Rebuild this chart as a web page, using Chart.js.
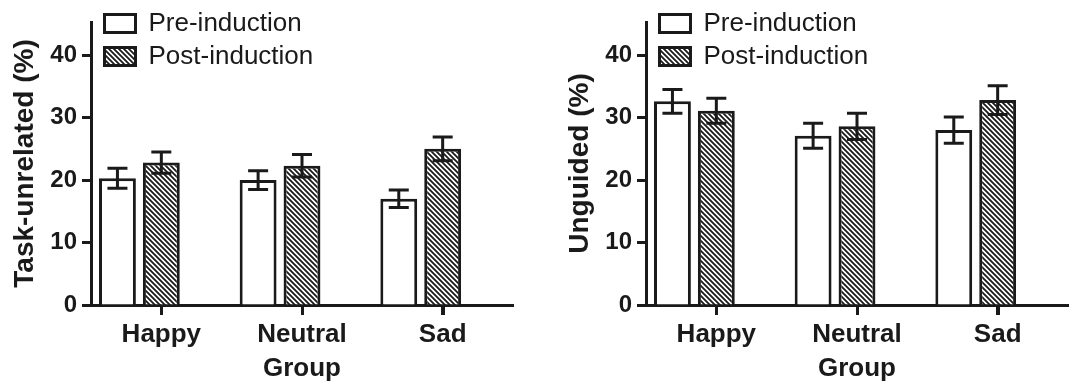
<!DOCTYPE html>
<html>
<head>
<meta charset="utf-8">
<script src="https://cdn.jsdelivr.net/npm/chart.js@4.4.1/dist/chart.umd.min.js"></script>
<style>
  html, body { margin: 0; padding: 0; background: #fff; }
  #wrap { display: flex; width: 1073px; height: 384px; }
  canvas { display: block; }
</style>
</head>
<body>
<div id="wrap">
  <canvas id="left" width="555" height="384"></canvas>
  <canvas id="right" width="518" height="384"></canvas>
</div>
<script>
const groups = ["Happy", "Neutral", "Sad"];
const seriesNames = ["Pre-induction", "Post-induction"];
const yTicks = [0, 10, 20, 30, 40];

// task-unrelated (%), mean and error
const taskPre = [20.3, 20.0, 17.0];
const taskPreErr = [1.6, 1.5, 1.4];
const taskPost = [22.8, 22.3, 25.0];
const taskPostErr = [1.7, 1.8, 1.9];

// unguided (%), mean and error
const ungPre = [32.6, 27.1, 28.0];
const ungPreErr = [1.9, 2.0, 2.1];
const ungPost = [31.1, 28.6, 32.8];
const ungPostErr = [2.0, 2.1, 2.3];

const INK = "#1a1a1a";
Chart.defaults.font.family = "'Liberation Sans', Arial, sans-serif";
Chart.defaults.color = INK;

// diagonal hatch for the post-induction bars
function hatch(ctx) {
  const s = 5;
  const tile = document.createElement("canvas");
  tile.width = s; tile.height = s;
  const t = tile.getContext("2d");
  t.fillStyle = "#fff";
  t.fillRect(0, 0, s, s);
  t.strokeStyle = INK;
  t.lineWidth = 1.8;
  t.beginPath();
  for (const k of [-s, 0, s]) {
    t.moveTo(k - 1, -1);
    t.lineTo(k + s + 1, s + 1);
  }
  t.stroke();
  return ctx.createPattern(tile, "repeat");
}

const errorBars = {
  id: "errorBars",
  afterDatasetsDraw(chart) {
    const { ctx } = chart;
    const y = chart.scales.y;
    ctx.save();
    ctx.strokeStyle = INK;
    ctx.lineWidth = 3;
    chart.data.datasets.forEach((ds, d) => {
      chart.getDatasetMeta(d).data.forEach((bar, i) => {
        const v = ds.data[i].y, e = ds.errors[i];
        const top = y.getPixelForValue(v + e), bot = y.getPixelForValue(v - e);
        ctx.beginPath();
        ctx.moveTo(bar.x, top); ctx.lineTo(bar.x, bot);
        ctx.moveTo(bar.x - 10, top); ctx.lineTo(bar.x + 10, top);
        ctx.moveTo(bar.x - 10, bot); ctx.lineTo(bar.x + 10, bot);
        ctx.stroke();
      });
    });
    ctx.restore();
  }
};

// short tick marks under each group label
const groupTicks = {
  id: "groupTicks",
  afterDraw(chart) {
    const { ctx, chartArea } = chart;
    const x = chart.scales.x;
    ctx.save();
    ctx.strokeStyle = INK;
    ctx.lineWidth = 3;
    ctx.beginPath();
    x.ticks.forEach((t, i) => {
      const px = Math.round(x.getPixelForTick(i)) + 0.5;
      ctx.moveTo(px, chartArea.bottom);
      ctx.lineTo(px, chartArea.bottom + 10);
    });
    ctx.stroke();
    ctx.restore();
  }
};

// legend sits partly above the plot area, like the original
const legendSpot = {
  id: "legendSpot",
  afterLayout(chart) {
    chart.legend.left = 97.5;
    chart.legend.top = 3.5;
  }
};

function build(id, yTitle, pre, preErr, post, postErr, padRight) {
  const ctx = document.getElementById(id).getContext("2d");
  const catPct = 0.624;
  const shift = catPct / 4; // bars sit left of the tick, tick under post bar
  return new Chart(ctx, {
    type: "bar",
    data: {
      datasets: [
        {
          label: seriesNames[0],
          data: pre.map((v, i) => ({ x: i, y: v })),
          errors: preErr,
          backgroundColor: "#fff",
          borderColor: INK,
          borderWidth: 3,
          xAxisID: "xb"
        },
        {
          label: seriesNames[1],
          data: post.map((v, i) => ({ x: i, y: v })),
          errors: postErr,
          backgroundColor: hatch(ctx),
          borderColor: INK,
          borderWidth: 3,
          xAxisID: "xb"
        }
      ]
    },
    options: {
      responsive: false,
      animation: false,
      devicePixelRatio: 1,
      categoryPercentage: catPct,
      barPercentage: 0.84,
      layout: { padding: { top: 22, right: padRight, bottom: 0, left: 0 } },
      scales: {
        x: {
          type: "linear",
          offset: false,
          min: -0.5,
          max: groups.length - 0.5,
          afterBuildTicks: s => { s.ticks = groups.map((g, i) => ({ value: i })); },
          border: { width: 3, color: INK },
          grid: { offset: false, drawOnChartArea: false, tickLength: 10, tickWidth: 3, tickColor: INK },
          ticks: {
            callback: v => groups[v],
            font: { size: 26, weight: "bold" },
            padding: 4,
            maxRotation: 0,
            autoSkip: false,
            color: INK
          },
          title: {
            display: true,
            text: "Group",
            font: { size: 26, weight: "bold", lineHeight: 1 },
            padding: { top: 0, bottom: 2 },
            color: INK
          },
          afterFit: s => { s.height = 79; }
        },
        xb: {
          type: "linear",
          display: false,
          offset: false,
          grid: { offset: false },
          min: -0.5 + shift,
          max: groups.length - 0.5 + shift,
          afterBuildTicks: s => { s.ticks = groups.map((g, i) => ({ value: i })); }
        },
        y: {
          min: 0,
          max: 45.3,
          afterBuildTicks: s => { s.ticks = yTicks.map(v => ({ value: v })); },
          border: { width: 3, color: INK },
          grid: { drawOnChartArea: false, tickLength: 9, tickWidth: 3, tickColor: INK },
          ticks: { font: { size: 24, weight: "bold" }, padding: 5, color: INK },
          title: {
            display: true,
            text: yTitle,
            font: { size: 28, weight: "bold", lineHeight: 1 },
            padding: { top: 11, bottom: 0 },
            color: INK
          },
          afterFit: s => { s.width = 91; }
        }
      },
      plugins: {
        legend: {
          position: "chartArea",
          align: "start",
          labels: { boxWidth: 31, boxHeight: 18, padding: 7, font: { size: 26 }, color: INK }
        },
        tooltip: { enabled: false }
      }
    },
    plugins: [errorBars, groupTicks, legendSpot]
  });
}

build("left", "Task-unrelated (%)", taskPre, taskPreErr, taskPost, taskPostErr, 42);
build("right", "Unguided (%)", ungPre, ungPreErr, ungPost, ungPostErr, 5);
</script>
</body>
</html>
